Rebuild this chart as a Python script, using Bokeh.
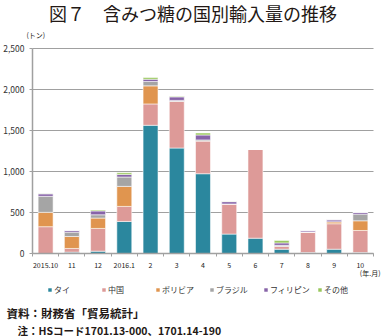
from bokeh.plotting import figure
from bokeh.models import (ColumnDataSource, Legend, LegendItem, LinearAxis, Grid,
                          FixedTicker, Range1d, Label)
from bokeh.embed import file_html
from bokeh.resources import INLINE

months = ["2015.10", "11", "12", "2016.1", "2", "3", "4", "5", "6", "7", "8", "9", "10"]
thai = [0, 20, 32, 394, 1565, 1288, 975, 240, 190, 56, 16, 56, 16]
china = [330, 45, 277, 183, 260, 570, 400, 367, 1080, 37, 248, 310, 268]
bolivia = [175, 146, 126, 244, 220, 0, 0, 0, 0, 0, 0, 24, 118]
brazil = [195, 52, 40, 114, 53, 10, 12, 0, 0, 10, 0, 0, 81]
philippines = [30, 20, 47, 32, 28, 43, 60, 28, 0, 30, 17, 24, 20]
others = [5, 0, 10, 20, 21, 8, 24, 3, 0, 28, 0, 0, 0]

series_keys = ["thai", "china", "bolivia", "brazil", "philippines", "others"]
series_names = ["タイ", "中国", "ボリビア", "ブラジル", "フィリピン", "その他"]
colors = ["#2B879E", "#DD9A98", "#E0954F", "#A5A5A5", "#8764A8", "#98C75B"]
yticks = [0, 500, 1000, 1500, 2000, 2500]
YMAX = 2500

FONT = "Noto Sans CJK JP"
GRID = "#A0A0A0"
TXT = "#231815"

# layout (canvas pixels)
W, H = 385, 336
PL, PR, PT, PB = 32, 373, 48, 253.3     # plot area edges
n = len(months)
pxc = (PR - PL) / n
ppu = (PB - PT) / YMAX

xs = [i + 0.5 for i in range(n)]
src = ColumnDataSource(dict(x=xs, thai=thai, china=china, bolivia=bolivia,
                            brazil=brazil, philippines=philippines, others=others))

p = figure(width=W, height=H, output_backend="svg", toolbar_location=None,
           x_range=Range1d(-PL / pxc, (W - PL) / pxc),
           y_range=Range1d(-(H - PB) / ppu, PB / ppu),
           x_axis_type=None, y_axis_type=None,
           min_border=0, min_border_left=0, min_border_right=0,
           min_border_top=0, min_border_bottom=0)
p.outline_line_color = None
p.background_fill_color = "white"
p.border_fill_color = "white"

grid = Grid(dimension=1, ticker=FixedTicker(ticks=yticks), cross_bounds=(0, n),
            grid_line_color=GRID, grid_line_width=1.2)
p.add_layout(grid)

renderers = p.vbar_stack(series_keys, x="x", width=0.57, source=src, color=colors,
                         line_color="white", line_alpha=0.55, line_width=1)

# y axis
yax = LinearAxis(ticker=FixedTicker(ticks=yticks), fixed_location=0, bounds=(0, YMAX))
yax.major_label_overrides = {v: f"{v:,}" for v in yticks}
yax.axis_line_color = GRID
yax.axis_line_width = 1.5
yax.major_tick_line_color = GRID
yax.major_tick_out = 3
yax.major_tick_in = 0
yax.minor_tick_line_color = None
yax.major_label_text_font = FONT
yax.major_label_text_font_size = "8.5px"
yax.major_label_text_color = "#333333"
yax.major_label_standoff = 5
p.add_layout(yax, "left")

# x axis: labels at centers, small ticks at category boundaries
xax = LinearAxis(ticker=FixedTicker(ticks=xs, minor_ticks=list(range(n + 1))),
                 fixed_location=0, bounds=(0, n))
xax.major_label_overrides = {x: m for x, m in zip(xs, months)}
xax.axis_line_color = GRID
xax.axis_line_width = 1.5
xax.major_tick_line_color = None
xax.major_tick_out = 0
xax.major_tick_in = 0
xax.minor_tick_line_color = GRID
xax.minor_tick_out = 3
xax.minor_tick_in = 0
xax.major_label_text_font = FONT
xax.major_label_text_font_size = "7px"
xax.major_label_text_color = "#222222"
xax.major_label_standoff = 5
p.add_layout(xax, "below")

legend = Legend(items=[LegendItem(label=nm, renderers=[r]) for nm, r in zip(series_names, renderers)],
                orientation="horizontal", location=(47, H - 295),
                glyph_width=5, glyph_height=5, label_standoff=2, label_width=44,
                spacing=3, padding=0, margin=0,
                label_text_font=FONT, label_text_font_size="8px", label_text_color="#333333",
                background_fill_alpha=0, border_line_alpha=0, label_height=8)
p.add_layout(legend, "center")


def lab(text, x, y, size, align="left", bold=False, baseline="middle"):
    p.add_layout(Label(x=x, y=H - y, x_units="screen", y_units="screen", text=text,
                       text_font=FONT, text_font_size=size, text_align=align,
                       text_baseline=baseline, text_color=TXT,
                       text_font_style="bold" if bold else "normal"))


lab("図７　含みつ糖の国別輸入量の推移", 192.5, 12, "18px", "center")
lab("(トン)", 26, 34, "7px")
lab("(年.月)", 380, 272, "7px", "right")
lab("資料：財務省「貿易統計」", 6, 312.5, "11.5px", bold=True)
lab("注：HSコード1701.13-000、1701.14-190", 17, 329.5, "10.5px", bold=True)

open("out.html", "w").write(file_html(p, INLINE))
